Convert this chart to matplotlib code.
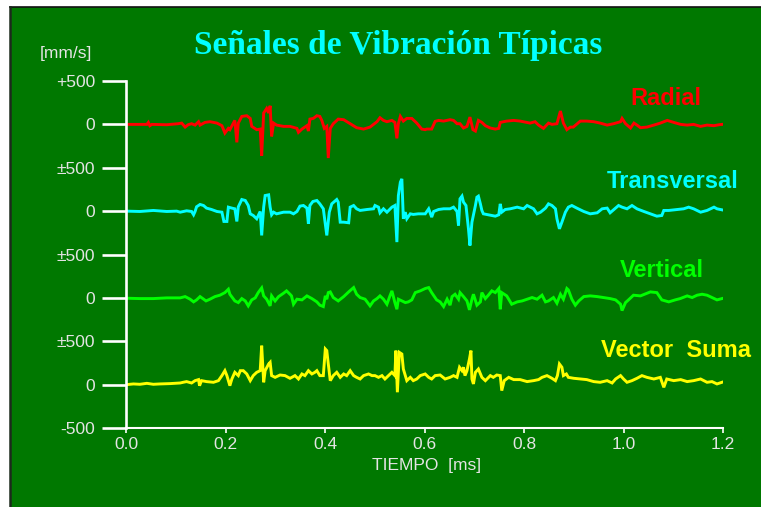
"""
Typical vibration signals: radial, transverse, vertical and vector sum,
stacked on one time axis with a shared offset y scale.
"""

import matplotlib
matplotlib.use("Agg")
import matplotlib.pyplot as plt
from matplotlib.lines import Line2D
from matplotlib.patches import Rectangle

# ---- data: time in ms, amplitude in mm/s around each channel's zero ----
radial_t = [
    0.000, 0.041, 0.044, 0.047, 0.051, 0.081, 0.104, 0.111, 0.118, 0.124,
    0.131, 0.138, 0.145, 0.148, 0.158, 0.168, 0.182, 0.192, 0.198, 0.205,
    0.208, 0.218, 0.222, 0.225, 0.232, 0.242, 0.249, 0.252, 0.262, 0.269,
    0.272, 0.276, 0.282, 0.286, 0.289, 0.292, 0.296, 0.302, 0.316, 0.329,
    0.343, 0.346, 0.353, 0.363, 0.366, 0.369, 0.376, 0.383, 0.389, 0.393,
    0.398, 0.403, 0.406, 0.410, 0.416, 0.426, 0.437, 0.450, 0.463, 0.477,
    0.490, 0.504, 0.510, 0.517, 0.524, 0.534, 0.540, 0.544, 0.547, 0.551,
    0.557, 0.564, 0.574, 0.584, 0.594, 0.601,
    0.604, 0.614, 0.621, 0.628, 0.638, 0.651, 0.658, 0.665, 0.671, 0.678,
    0.685, 0.691, 0.697, 0.702, 0.708, 0.715, 0.722, 0.732, 0.742, 0.749,
    0.752, 0.765, 0.779, 0.792, 0.812, 0.822, 0.829, 0.839, 0.849, 0.856,
    0.866, 0.873, 0.876, 0.879, 0.886, 0.893, 0.899, 0.913, 0.926, 0.940,
    0.953, 0.967, 0.980, 0.994, 0.997, 1.004, 1.014, 1.021, 1.027, 1.034,
    1.047, 1.061, 1.074, 1.088, 1.101, 1.115, 1.128, 1.141, 1.155, 1.168,
    1.182, 1.192, 1.198,
]
radial_v = [
    0, 0, 23, -15, 0, -4, 8, 15, -31, -4,
    8, -8, 31, -8, 23, 31, 15, -15, -100, -46,
    -61, 46, -207, 15, 92, 100, 69, -23, -61, -54,
    -361, 131, 184, 131, 215, -138, 15, -8, -23, -23,
    -46, -92, -54, -15, -77, 61, 69, 100, 92, 46,
    -46, -23, -388, -46, 8, 61, 54, 8, -38, -54,
    -31, 31, 77, 46, 31, 46, 23, -161, 8, 92,
    38, 69, 69, 15, -54, -61,
    -54, -54, 35, 46, 38, 54, 46, 8, 8, -42,
    -23, 84, -61, -77, 46, 23, -15, -42, -54, -46,
    23, 38, 46, 38, 15, 31, -8, -46, 15, 0,
    8, 154, 84, 15, -61, -31, -31, 38, 38, 31,
    15, -8, 8, 31, 69, 8, -42, 15, -8, -38,
    -31, -8, 15, 46, 23, 0, -8, 0, -23, -8,
    -15, -4, 0,
]

transversal_t = [
    0.000, 0.027, 0.054, 0.081, 0.101, 0.108, 0.121, 0.131, 0.135, 0.138,
    0.141, 0.148, 0.155, 0.161, 0.171, 0.182, 0.192, 0.196, 0.202, 0.205,
    0.212, 0.218, 0.222, 0.225, 0.232, 0.239, 0.245, 0.249, 0.255, 0.262,
    0.269, 0.272, 0.276, 0.279, 0.286, 0.289, 0.292, 0.296, 0.302, 0.316,
    0.329, 0.336, 0.343, 0.349, 0.356, 0.363, 0.366, 0.369, 0.375, 0.383,
    0.389, 0.396, 0.403, 0.408, 0.413, 0.423, 0.426, 0.430, 0.437, 0.447,
    0.450, 0.457, 0.463, 0.470, 0.484, 0.497, 0.500, 0.507, 0.510, 0.517,
    0.524, 0.534, 0.540, 0.544, 0.547, 0.551, 0.554, 0.557, 0.561, 0.564,
    0.571, 0.577, 0.587, 0.601,
    0.608, 0.614, 0.618, 0.628, 0.638, 0.651, 0.658, 0.665, 0.668, 0.671,
    0.675, 0.678, 0.683, 0.688, 0.691, 0.695, 0.702, 0.705, 0.708, 0.712,
    0.715, 0.718, 0.728, 0.742, 0.749, 0.752, 0.755, 0.762, 0.772, 0.786,
    0.799, 0.806, 0.819, 0.826, 0.833, 0.843, 0.849, 0.856, 0.863, 0.866,
    0.871, 0.876, 0.883, 0.889, 0.896, 0.906, 0.920, 0.933, 0.947, 0.957,
    0.967, 0.973, 0.984, 0.990, 0.997, 1.007, 1.017, 1.027, 1.041, 1.054,
    1.067, 1.077, 1.081, 1.091, 1.108, 1.121, 1.131, 1.141, 1.155, 1.168,
    1.175, 1.182, 1.188, 1.198,
]
transversal_v = [
    0, -4, 8, -4, 0, -12, 4, -4, -42, -4,
    50, 77, 65, 35, 19, -4, -12, -119, -119, 46,
    35, 27, -119, 50, 134, 123, 65, -31, -50, -88,
    -4, -280, 46, 180, 188, 46, -42, -12, -31, -12,
    -12, -31, -4, 58, 65, 35, -146, 65, 111, 123,
    84, 27, -280, -12, 84, 134, 104, -127, -127, -134,
    46, 65, 27, 8, 19, 27, 65, 46, -19, 27,
    -12, 46, 65, -357, 180, 334, 372, -88, -12, -88,
    -31, -38, -31, -31,
    27, -69, -4, 19, 27, 27, 46, -4, -165, 142,
    173, 104, 65, -204, -396, -127, 65, 161, 173, 84,
    8, -31, -42, -58, -42, 84, -12, 19, 27, 46,
    27, 65, 27, -31, -12, 35, 84, 65, 27, -88,
    -204, -127, -12, 46, 65, 35, -4, -31, -19, 27,
    35, -19, 35, 65, 46, 27, 65, 27, -4, -31,
    -58, -50, 8, 8, 19, 27, 46, 27, -12, 8,
    27, 46, 27, 15,
]

vertical_t = [
    0.000, 0.027, 0.054, 0.081, 0.108, 0.118, 0.128, 0.135, 0.141, 0.148,
    0.155, 0.160, 0.168, 0.178, 0.188, 0.198, 0.205, 0.208, 0.218, 0.225,
    0.232, 0.239, 0.245, 0.252, 0.259, 0.265, 0.272, 0.276, 0.282, 0.289,
    0.292, 0.299, 0.306, 0.316, 0.322, 0.329, 0.332, 0.336, 0.343, 0.353,
    0.363, 0.373, 0.383, 0.389, 0.396, 0.400, 0.403, 0.406, 0.410, 0.416,
    0.426, 0.437, 0.447, 0.457, 0.463, 0.470, 0.480, 0.490, 0.497, 0.504,
    0.510, 0.517, 0.524, 0.530, 0.534, 0.540, 0.544, 0.547, 0.554, 0.561,
    0.567, 0.574, 0.581, 0.591, 0.601,
    0.608, 0.614, 0.624, 0.631, 0.638, 0.645, 0.651, 0.655, 0.661, 0.668,
    0.671, 0.678, 0.685, 0.690, 0.695, 0.698, 0.705, 0.712, 0.715, 0.722,
    0.728, 0.735, 0.742, 0.749, 0.752, 0.755, 0.765, 0.775, 0.786, 0.796,
    0.806, 0.816, 0.826, 0.836, 0.843, 0.849, 0.859, 0.866, 0.873, 0.879,
    0.886, 0.889, 0.896, 0.903, 0.910, 0.920, 0.933, 0.947, 0.960, 0.973,
    0.984, 0.994, 0.997, 1.004, 1.010, 1.020, 1.034, 1.054, 1.067, 1.077,
    1.091, 1.104, 1.114, 1.128, 1.138, 1.148, 1.158, 1.168, 1.178, 1.188,
    1.198,
]
vertical_v = [
    -4, -8, -8, 0, 0, 15, -15, -46, -23, 15,
    -15, -35, -15, 15, 31, 61, 100, 42, -35, -54,
    -8, -35, -92, -23, 0, 61, 115, 23, -15, -92,
    23, -35, 15, 54, 81, 42, 23, -73, -15, -23,
    23, -8, -46, -84, -100, 23, -15, 61, 69, 4,
    -35, 15, 69, 119, 42, 4, -15, -92, -35, -8,
    23, -15, -73, 23, 81, -54, -131, -15, -35, -54,
    -46, -23, 61, 81, 108,
    119, 61, -23, -46, -100, -15, -84, 15, 42, -15,
    61, 15, -35, -138, -15, 42, -84, -46, 61, -8,
    31, 81, 61, 108, -131, 61, 23, -73, -46, -35,
    -15, 4, -15, 31, -46, -35, 4, -61, 42, -15,
    108, 92, -15, -84, -35, 15, 23, 15, 4, -8,
    -23, -73, -146, -54, -23, 31, 23, 69, 61, -23,
    -46, -23, -8, 23, 4, 31, 42, 31, 4, -23,
    -8,
]

suma_t = [
    0.000, 0.014, 0.027, 0.041, 0.054, 0.067, 0.088, 0.108, 0.114, 0.121,
    0.131, 0.138, 0.145, 0.147, 0.151, 0.161, 0.175, 0.185, 0.192, 0.198,
    0.202, 0.208, 0.212, 0.218, 0.225, 0.229, 0.235, 0.242, 0.249, 0.255,
    0.262, 0.269, 0.272, 0.276, 0.279, 0.286, 0.289, 0.292, 0.299, 0.309,
    0.319, 0.329, 0.339, 0.346, 0.353, 0.359, 0.366, 0.373, 0.379, 0.383,
    0.389, 0.396, 0.400, 0.403, 0.406, 0.410, 0.416, 0.423, 0.430, 0.437,
    0.443, 0.450, 0.457, 0.463, 0.470, 0.477, 0.487, 0.494, 0.500, 0.507,
    0.514, 0.520, 0.527, 0.534, 0.540, 0.542, 0.545, 0.549, 0.554, 0.557,
    0.564, 0.571, 0.577, 0.584, 0.591, 0.601,
    0.608, 0.614, 0.621, 0.631, 0.641, 0.651, 0.658, 0.665, 0.670, 0.675,
    0.678, 0.681, 0.685, 0.690, 0.693, 0.695, 0.698, 0.702, 0.708, 0.715,
    0.722, 0.732, 0.738, 0.745, 0.752, 0.755, 0.760, 0.769, 0.779, 0.792,
    0.806, 0.819, 0.829, 0.836, 0.846, 0.856, 0.863, 0.867, 0.871, 0.876,
    0.879, 0.885, 0.889, 0.900, 0.913, 0.926, 0.940, 0.953, 0.967, 0.977,
    0.984, 0.994, 1.000, 1.007, 1.017, 1.027, 1.037, 1.047, 1.061, 1.074,
    1.081, 1.087, 1.101, 1.115, 1.128, 1.141, 1.155, 1.168, 1.178, 1.188,
    1.198,
]
suma_v = [
    0, 8, 4, 15, 4, 8, 12, 19, 27, 35,
    19, 46, 58, -12, 46, 35, 27, 46, 104, 161,
    104, -12, 65, 142, 104, 161, 161, 123, 46, 104,
    142, 161, 449, 27, 161, 238, 257, 104, 84, 111,
    104, 73, 104, 65, 123, 104, 161, 123, 142, 161,
    104, 104, 411, 392, 238, 46, 104, 142, 84, 123,
    104, 161, 104, 84, 65, 104, 123, 104, 104, 84,
    104, 65, 104, 142, 104, 392, -88, 372, 353, 180,
    46, 84, 46, 65, 104, 123,
    84, 65, 104, 111, 65, 84, 104, 84, 200, 161,
    200, 104, 161, 296, 392, 65, 8, 142, 180, 84,
    46, 104, 84, 111, 104, -69, 46, 84, 58, 58,
    35, 46, 58, 84, 104, 73, 46, 104, 238, 200,
    104, 123, 84, 73, 65, 58, 35, 27, 46, 19,
    65, 104, 65, 27, 46, 73, 104, 84, 65, 84,
    -31, 65, 46, 58, 35, 46, 65, 27, 35, 8,
    27,
]

channel_names = ["Radial", "Transversal", "Vertical", "Vector  Suma"]
channel_colors = ["#ff0000", "#00ffff", "#00ff00", "#ffff00"]

y_ticks = [-500, 0, 500, 1000, 1500, 2000, 2500, 3000, 3500]
y_tick_labels = ["-500", "0", "\u00b1500", "0", "\u00b1500", "0", "\u00b1500", "0", "+500"]
x_ticks = [0.0, 0.2, 0.4, 0.6, 0.8, 1.0, 1.2]

PANEL_GREEN = "#007800"
AXIS_WHITE = "#ffffff"
LABEL_GREY = "#e4e4e4"


def draw_panel(fig):
    """Green board behind the chart with a dark rule on its top and left."""
    w, h = fig.get_size_inches() * fig.dpi
    left, top = 10 / w, 1 - 7 / h
    fig.patches.append(Rectangle((left, 0), 1 - left, top,
                                 transform=fig.transFigure,
                                 facecolor=PANEL_GREEN, edgecolor="none",
                                 zorder=-10))
    fig.lines.append(Line2D([left, 1], [top, top], transform=fig.transFigure,
                            color="#111111", linewidth=1.2, zorder=-5))
    fig.lines.append(Line2D([left, left], [0, top], transform=fig.transFigure,
                            color="#1c2a1c", linewidth=1.8, zorder=-5))


def main():
    plt.rcParams["font.family"] = ["Liberation Sans", "DejaVu Sans"]

    fig = plt.figure(figsize=(7.61, 5.07), dpi=100, facecolor="white")
    draw_panel(fig)

    ax = fig.add_axes([0.1662, 0.1558, 0.7838, 0.6844])
    ax.patch.set_visible(False)

    # each channel sits on its own baseline, 1000 mm/s apart
    series = [(radial_t, radial_v), (transversal_t, transversal_v),
              (vertical_t, vertical_v), (suma_t, suma_v)]
    offsets = [3000, 2000, 1000, 0]
    for (t, v), off, color in zip(series, offsets, channel_colors):
        ax.plot(t, [val + off for val in v], color=color, linewidth=2.1,
                solid_joinstyle="miter")

    ax.set_xlim(0, 1.2)
    ax.set_ylim(-500, 3500)

    for side in ("top", "right"):
        ax.spines[side].set_visible(False)
    ax.spines["left"].set_color(AXIS_WHITE)
    ax.spines["left"].set_linewidth(1.9)
    ax.spines["bottom"].set_color(AXIS_WHITE)
    ax.spines["bottom"].set_linewidth(1.5)

    ax.set_yticks(y_ticks)
    ax.set_yticklabels(y_tick_labels)
    ax.set_xticks(x_ticks)
    ax.set_xticklabels([f"{x:.1f}" for x in x_ticks])
    ax.tick_params(axis="y", length=17.5, width=1.9, color=AXIS_WHITE,
                   labelcolor=LABEL_GREY, labelsize=12.5, pad=5)
    ax.tick_params(axis="x", length=3.8, width=1.2, color=AXIS_WHITE,
                   labelcolor=LABEL_GREY, labelsize=12.5, pad=3)

    # channel names at the right end of each trace
    name_pos = [(1.157, 3304), (1.231, 2336), (1.161, 1321), (1.257, 399)]
    for name, color, (tx, ty) in zip(channel_names, channel_colors, name_pos):
        ax.text(tx, ty, name, color=color, fontsize=17, fontweight="bold",
                ha="right", va="center", clip_on=False)

    fig.text(0.523, 0.911, "Señales de Vibración Típicas",
             family=["Liberation Serif", "DejaVu Serif"], fontsize=24,
             fontweight="bold", color="#00ffff", ha="center", va="center")
    fig.text(0.086, 0.895, "[mm/s]", fontsize=12.5, color=LABEL_GREY,
             ha="center", va="center")
    fig.text(0.560, 0.081, "TIEMPO  [ms]", fontsize=12.5, color=LABEL_GREY,
             ha="center", va="center")

    fig.savefig("out.png", dpi=100, facecolor=fig.get_facecolor())
    plt.close(fig)


if __name__ == "__main__":
    main()
